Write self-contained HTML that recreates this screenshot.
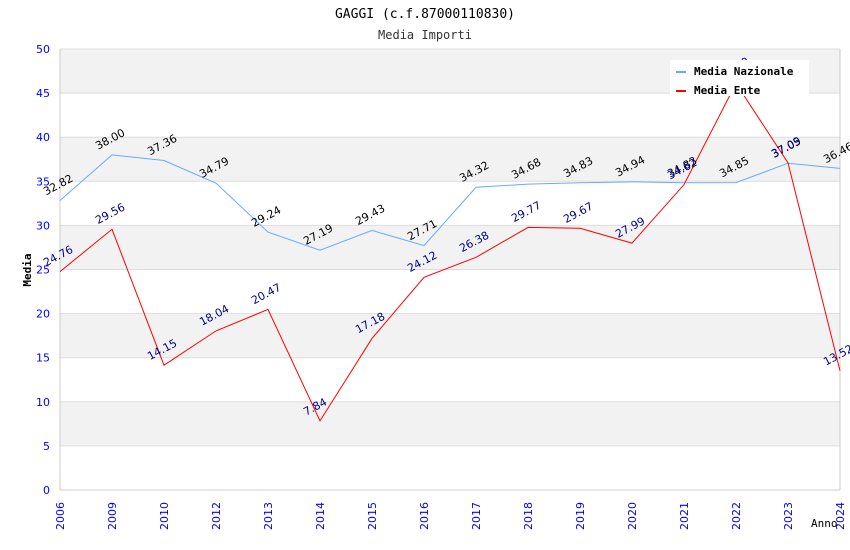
<!DOCTYPE html>
<html><head><meta charset="utf-8"><style>
body{margin:0;background:#fff;}
svg{display:block;font-family:"DejaVu Sans","Liberation Sans",sans-serif;}
</style></head><body>
<svg id="c" width="850" height="550">
<text x="425" y="18" text-anchor="middle" font-family="DejaVu Sans Mono, Liberation Mono, monospace" font-size="13" fill="#000">GAGGI (c.f.87000110830)</text>
<text x="425" y="39" text-anchor="middle" font-family="DejaVu Sans Mono, Liberation Mono, monospace" font-size="12" fill="#333">Media Importi</text>
<g id="grid"></g><g id="axes"></g><g id="series"></g><g id="labels"></g>
<g>
<rect x="670" y="60" width="139" height="36" fill="#fff"/>
<g><rect x="676" y="71" width="10" height="2" fill="#6af"/><text x="694" y="75" font-family="DejaVu Sans Mono, monospace" font-weight="bold" font-size="11">Media Nazionale</text></g>
<g><rect x="676" y="90" width="10" height="2" fill="red"/><text x="694" y="94" font-family="DejaVu Sans Mono, monospace" font-weight="bold" font-size="11">Media Ente</text></g>
</g>
<text x="31" y="270" transform="rotate(-90 31 270)" text-anchor="middle" font-family="DejaVu Sans Mono, monospace" font-weight="bold" font-size="11">Media</text>
<text x="811" y="527" font-family="DejaVu Sans Mono, monospace" font-size="11">Anno</text>
</svg>
<script>
const categories=["2006","2009","2010","2012","2013","2014","2015","2016","2017","2018","2019","2020","2021","2022","2023","2024"];
const nazionale=[32.82,38.00,37.36,34.79,29.24,27.19,29.43,27.71,34.32,34.68,34.83,34.94,34.83,34.85,37.05,36.46];
const ente=[24.76,29.56,14.15,18.04,20.47,7.84,17.18,24.12,26.38,29.77,29.67,27.99,34.62,46.10,37.09,13.52];
const yTicks=[0,5,10,15,20,25,30,35,40,45,50];
const NS="http://www.w3.org/2000/svg";
const L=60,R=840,T=49,B=490,YMAX=50;
const xs=i=>L+i*(R-L)/(categories.length-1);
const ys=v=>B-v/YMAX*(B-T);
function mk(p,t,a){const e=document.createElementNS(NS,t);for(const k in a)e.setAttribute(k,a[k]);p.appendChild(e);return e;}
const grid=document.getElementById('grid'),axes=document.getElementById('axes'),series=document.getElementById('series'),labels=document.getElementById('labels');
for(let i=0;i<yTicks.length-1;i++){
 const v0=yTicks[i],v1=yTicks[i+1];
 const r=mk(grid,'rect',{x:L,y:ys(v1),width:R-L,height:ys(v0)-ys(v1),fill:(i%2==1)?'#f2f2f2':'#fff'});
 
 
}
yTicks.forEach(v=>{
 const l=mk(grid,'line',{x1:L,x2:R,y1:ys(v),y2:ys(v),stroke:'#ddd'});
 
 
 const t=mk(axes,'text',{x:50,y:ys(v)+4,'text-anchor':'end','font-size':11,fill:'#00f'});
 t.textContent=v;
 
 
});
mk(axes,'line',{x1:L,x2:L,y1:T,y2:B,stroke:'#ccc'});
mk(axes,'line',{x1:R,x2:R,y1:T,y2:B,stroke:'#ccc'});
mk(axes,'line',{x1:L,x2:R,y1:B,y2:B,stroke:'#ccc'});
categories.forEach((c,i)=>{
 const x=xs(i)+4,y=530;
 const t=mk(axes,'text',{x:x,y:y,transform:`rotate(-90 ${x} ${y})`,'font-size':11,fill:'#00f'});
 t.textContent=c;
 
 
});
function draw(arr,color,lc,name){
 const p=mk(series,'polyline',{points:arr.map((v,i)=>xs(i)+','+ys(v)).join(' '),fill:'none',stroke:color,'stroke-width':1});
 
 
 arr.forEach((v,i)=>{
  const x=xs(i)-14,y=ys(v)-5;
  const t=mk(labels,'text',{x:x,y:y,transform:`rotate(-28 ${x} ${y})`,'font-size':11,fill:lc});
  t.textContent=v.toFixed(2);
  
  
 });
}
draw(nazionale,'#6af','#000','nazionale');
draw(ente,'red','#008','ente');
</script>
</body></html>
